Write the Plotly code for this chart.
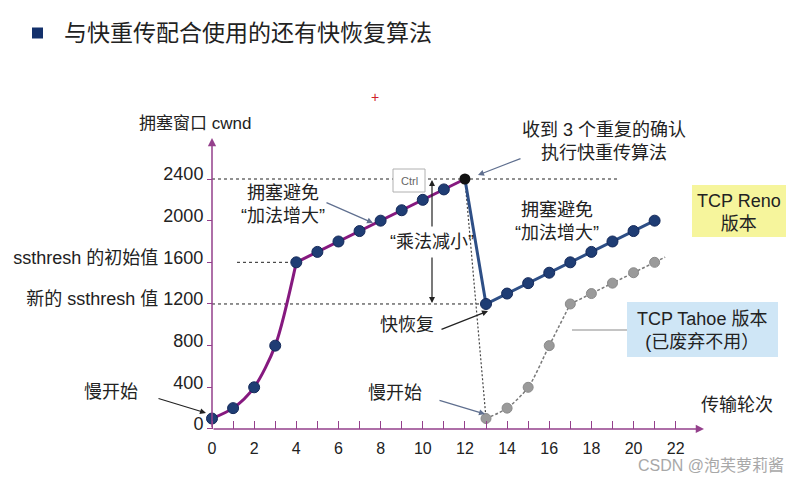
import plotly.graph_objects as go

# ---------------- data ----------------
rounds_ss = [0, 1, 2, 3, 4]
cwnd_ss = [100, 200, 400, 800, 1600]
rounds_ca = [4, 5, 6, 7, 8, 9, 10, 11, 12]
cwnd_ca = [1600, 1700, 1800, 1900, 2000, 2100, 2200, 2300, 2400]
rounds_reno = [13, 14, 15, 16, 17, 18, 19, 20, 21]
cwnd_reno = [1200, 1300, 1400, 1500, 1600, 1700, 1800, 1900, 2000]
rounds_tahoe_ss = [13, 14, 15, 16, 17]
cwnd_tahoe_ss = [100, 200, 400, 800, 1200]
rounds_tahoe_ca = [17, 18, 19, 20, 21, 21.5]
cwnd_tahoe_ca = [1200, 1300, 1400, 1500, 1600, 1650]
ssthresh_init = 1600
ssthresh_new = 1200
peak_round, peak_cwnd = 12, 2400
x_ticks = list(range(0, 23))
x_ticklabels = [str(v) if v % 2 == 0 else "" for v in x_ticks]
y_ticks = [0, 400, 800, 1200, 1600, 2000, 2400]
y_ticklabels = ["0", "400", "800", "新的 ssthresh 值 1200", "ssthresh 的初始值 1600", "2000", "2400"]

# ---------------- layout helpers (pixel -> data) ----------------
W, H = 798, 482
X0, SX = 212.0, 21.077
Y0, SY = 428.96, 0.10415


def dx(p):
    return (p - X0) / SX


def dy(p):
    return (Y0 - p) / SY


FONT = "Liberation Sans, Arial, Noto Sans CJK SC, sans-serif"
TXT = "#222222"
PURPLE = "#86197f"
AXIS = "#94408c"
NAVY = "#1f3d74"
NAVY_LINE = "#2e4f86"
GRAY = "#9a9a9a"

fig = go.Figure()

# slow start (purple, smooth)
fig.add_trace(go.Scatter(x=rounds_ss, y=cwnd_ss, mode="lines",
                         line=dict(color=PURPLE, width=3, shape="spline", smoothing=0.8), hoverinfo="skip"))
# congestion avoidance (purple)
fig.add_trace(go.Scatter(x=rounds_ca, y=cwnd_ca, mode="lines",
                         line=dict(color=PURPLE, width=3), hoverinfo="skip"))
# Reno drop + Reno additive increase
fig.add_trace(go.Scatter(x=[peak_round] + rounds_reno, y=[peak_cwnd] + cwnd_reno, mode="lines",
                         line=dict(color=NAVY_LINE, width=3), hoverinfo="skip"))
# Tahoe (dashed gray)
fig.add_trace(go.Scatter(x=rounds_tahoe_ss, y=cwnd_tahoe_ss, mode="lines",
                         line=dict(color="#7a7a7a", width=1.5, dash="3px,2px", shape="spline", smoothing=0.8),
                         hoverinfo="skip"))
fig.add_trace(go.Scatter(x=rounds_tahoe_ca, y=cwnd_tahoe_ca, mode="lines",
                         line=dict(color="#7a7a7a", width=1.5, dash="3px,2px"), hoverinfo="skip"))
# Tahoe markers
fig.add_trace(go.Scatter(x=rounds_tahoe_ss + rounds_tahoe_ca[1:-1], y=cwnd_tahoe_ss + cwnd_tahoe_ca[1:-1],
                         mode="markers",
                         marker=dict(color=GRAY, size=10, line=dict(color="#8a8a8a", width=1)),
                         hoverinfo="skip"))
# navy markers
fig.add_trace(go.Scatter(x=rounds_ss + rounds_ca[1:-1] + rounds_reno,
                         y=cwnd_ss + cwnd_ca[1:-1] + cwnd_reno, mode="markers",
                         marker=dict(color=NAVY, size=11, line=dict(color="#14295a", width=1)),
                         hoverinfo="skip"))
# peak point (black)
fig.add_trace(go.Scatter(x=[peak_round], y=[peak_cwnd], mode="markers",
                         marker=dict(color="#111111", size=11), hoverinfo="skip"))

shapes = []
dash_line = dict(color="#222222", width=1, dash="3px,3px")
# reference dashed lines
shapes.append(dict(type="line", xref="x", yref="y", x0=0, x1=dx(618), y0=peak_cwnd, y1=peak_cwnd,
                   line=dash_line, layer="below"))
shapes.append(dict(type="line", xref="x", yref="y", x0=dx(237), x1=rounds_ss[-1], y0=ssthresh_init,
                   y1=ssthresh_init, line=dash_line, layer="below"))
shapes.append(dict(type="line", xref="x", yref="y", x0=0, x1=rounds_reno[0], y0=ssthresh_new,
                   y1=ssthresh_new, line=dash_line, layer="below"))
shapes.append(dict(type="line", xref="x", yref="y", x0=peak_round, x1=rounds_tahoe_ss[0], y0=peak_cwnd,
                   y1=cwnd_tahoe_ss[0], line=dict(color="#444444", width=1.2, dash="2px,2px"), layer="below"))
# title square
shapes.append(dict(type="rect", xref="x", yref="y", x0=dx(32), x1=dx(43), y0=dy(38.5), y1=dy(27.5),
                   fillcolor="#13306b", line=dict(width=0)))
# legend-like boxes
shapes.append(dict(type="rect", xref="x", yref="y", x0=dx(692), x1=dx(786), y0=dy(237), y1=dy(185),
                   fillcolor="#f6f59c", line=dict(width=0), layer="below"))
shapes.append(dict(type="rect", xref="x", yref="y", x0=dx(627), x1=dx(778), y0=dy(357), y1=dy(302),
                   fillcolor="#cfe6f6", line=dict(width=0), layer="below"))
# Tahoe callout connector
shapes.append(dict(type="line", xref="x", yref="y", x0=dx(572), x1=dx(627), y0=dy(330), y1=dy(330),
                   line=dict(color="#8a8a8a", width=1.2)))
# Ctrl popup box
shapes.append(dict(type="rect", xref="x", yref="y", x0=dx(393), x1=dx(425), y0=dy(192), y1=dy(169),
                   fillcolor="white", line=dict(color="#b0b0b0", width=1)))

ann = []


def text(px, py, s, size=18, color=TXT, xanchor="center"):
    ann.append(dict(x=dx(px), y=dy(py), xref="x", yref="y", text=s, showarrow=False,
                    xanchor=xanchor, yanchor="middle",
                    font=dict(family=FONT, size=size, color=color)))


def arrow(tx, ty, hx, hy, color="#222222", width=1.2, head=2, size=1.0):
    ann.append(dict(x=dx(hx), y=dy(hy), ax=dx(tx), ay=dy(ty), xref="x", yref="y",
                    axref="x", ayref="y", text="", showarrow=True, arrowhead=head,
                    arrowsize=size, arrowwidth=width, arrowcolor=color))


# axes arrows
arrow(X0, Y0, X0, 138, color=AXIS, width=1.5, head=2, size=1.1)
arrow(X0, Y0, 704, Y0, color=AXIS, width=1.5, head=2, size=1.1)

# title
ann.append(dict(x=62 / W, y=1 - 33 / H, xref="paper", yref="paper", text="与快重传配合使用的还有快恢复算法",
                showarrow=False, xanchor="left", yanchor="middle",
                font=dict(family=FONT, size=23, color=TXT)))
text(375, 97, "+", size=14, color="#d0202a")
text(195, 123, "拥塞窗口 cwnd", size=17)
text(111, 392, "慢开始")
arrow(157, 398, 206, 413, color="#222222")
text(283, 204, "拥塞避免<br>“加法增大”")
arrow(325, 202, 373, 223, color="#5f6f8f")
text(409, 180.5, "Ctrl", size=11, color="#666666")
text(432, 242, "“乘法减小”")
arrow(432, 228, 432, 180)
arrow(432, 256, 432, 303)
text(604, 141.5, "收到 3 个重复的确认<br>执行快重传算法")
arrow(522, 158, 478, 175, color="#5f6f8f")
text(557, 221, "拥塞避免<br>“加法增大”")
text(739, 212, "TCP Reno<br>版本")
text(407, 325, "快恢复")
arrow(440, 330, 488, 311)
text(702, 330, "TCP Tahoe 版本<br>(已废弃不用）")
text(395, 393, "慢开始")
arrow(438, 400, 485, 414, color="#5f6f8f")
text(737, 405, "传输轮次")
text(786, 465, "CSDN @泡芙萝莉酱", size=16, color="#a8a8a8", xanchor="right")

fig.update_layout(
    width=W, height=H, autosize=False,
    margin=dict(l=0, r=0, t=0, b=0),
    paper_bgcolor="white", plot_bgcolor="white",
    showlegend=False,
    shapes=shapes, annotations=ann,
    xaxis=dict(range=[dx(0), dx(W)], anchor="free", position=(H - Y0) / H,
               showgrid=False, zeroline=False, showline=False,
               tickmode="array", tickvals=x_ticks, ticktext=x_ticklabels,
               ticks="inside", ticklen=8, tickwidth=1.2, tickcolor=AXIS,
               ticklabelstandoff=8,
               tickfont=dict(family=FONT, size=16, color=TXT), fixedrange=True),
    yaxis=dict(range=[dy(H), dy(0)], anchor="free", position=X0 / W,
               showgrid=False, zeroline=False, showline=False,
               tickmode="array", tickvals=y_ticks, ticktext=y_ticklabels,
               ticks="outside", ticklen=5, tickwidth=1.2, tickcolor=AXIS,
               ticklabelshift=-5,
               tickfont=dict(family=FONT, size=18, color=TXT), fixedrange=True),
)

fig.write_html("out.html")
